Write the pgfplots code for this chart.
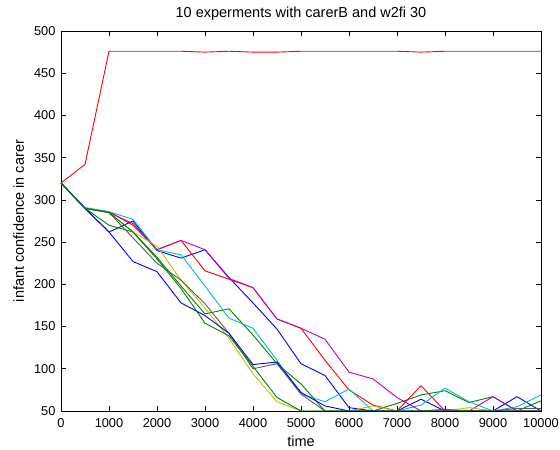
\documentclass[border=0pt]{standalone}
\usepackage{fontspec}
\setmainfont{Liberation Sans}
\usepackage{pgfplots}
\pgfplotsset{compat=1.18}
\definecolor{mb}{rgb}{0,0,1}
\definecolor{mg}{rgb}{0,0.5,0}
\definecolor{mr}{rgb}{1,0,0}
\definecolor{mc}{rgb}{0,0.75,0.75}
\definecolor{mm}{rgb}{0.75,0,0.75}
\definecolor{my}{rgb}{0.75,0.75,0}
\definecolor{mk}{rgb}{0.35,0.35,0.35}
\pgfplotstableread{
x L1 L2 L3 L4 L5 L6 L7 L8 L9 L10
0     320 320 320 320 320 320 320 320 320 320
500   342 290 290 290 291 290 290 290 290 290
1000  476 262 270 286 286 285 285 285 262 285
1500  476 275 262 270 277 272 262 255 227 262
2000  476 240 232 241 241 241 245 225 215 230
2500  476 231 198 252 235 252 205 205 178 195
3000  475 241 165 216 198 241 172 177 163 154
3500  476 208 171 206 160 207 136 142 142 139
4000  475 178 140 196 148 196 94  100 105 103
4500  475 147 106 159 110 159 61  106 108 66
5000  476 106 82  148 70  148 50  70  72  50
5500  476 92  50  110 61  135 50  50  56  50
6000  476 54  50  75  76  96  50  50  50  50
6500  476 50  50  57  50  88  56  50  50  50
7000  476 50  59  50  50  66  50  50  50  50
7500  475 64  69  80  57  50  50  50  50  50
8000  476 50  74  50  77  50  50  50  50  52
8500  476 50  60  50  61  50  54  50  50  50
9000  476 50  67  50  50  67  50  50  50  50
9500  476 67  50  50  55  50  50  53  50  50
10000 476 50  62  50  69  50  50  53  50  50
}\data
\begin{document}
\begin{tikzpicture}
\begin{axis}[
  at={(0,0)}, anchor=south west,
  scale only axis, width=480bp, height=380bp,
  xmin=0, xmax=10000, ymin=50, ymax=500,
  xtick={0,1000,...,10000}, ytick={50,100,...,500},
  tick align=inside, tick pos=both,
  major tick length=5bp,
  /pgf/number format/assume math mode=true,
  /pgf/number format/set thousands separator={},
  scaled x ticks=false,
  tick label style={font=\fontsize{12.8bp}{15bp}\selectfont},
  xticklabel style={yshift=-4bp},
  yticklabel style={xshift=-2bp},
  title={10 experments with carerB and w2fi 30},
  title style={font=\fontsize{14.5bp}{17bp}\selectfont, at={(axis description cs:0.5,1)}, anchor=base, yshift=8bp},
  xlabel={time},
  xlabel style={font=\fontsize{14.5bp}{17bp}\selectfont, inner sep=0.5bp, at={(axis description cs:0.5,0)}, anchor=base, yshift=-35.5bp},
  ylabel={infant confidence in carer},
  ylabel style={font=\fontsize{14.5bp}{17bp}\selectfont, at={(axis description cs:0,0.5)}, anchor=base, yshift=37bp},
  axis line style={line width=0.6bp},
  every tick/.style={line width=0.6bp, black},
  every axis plot/.append style={line width=0.9bp, line join=round},
]
\addplot[mb] table[x=x,y=L2]{\data};
\addplot[mg] table[x=x,y=L3]{\data};
\addplot[mr] table[x=x,y=L4]{\data};
\addplot[mc] table[x=x,y=L5]{\data};
\addplot[mm] table[x=x,y=L6]{\data};
\addplot[my] table[x=x,y=L7]{\data};
\addplot[mk] table[x=x,y=L8]{\data};
\addplot[mb] table[x=x,y=L9]{\data};
\addplot[mg] table[x=x,y=L10]{\data};
\addplot[mr] table[x=x,y=L1]{\data};
\end{axis}
\pgfresetboundingbox
\path[use as bounding box] (-61bp,-38.3bp) rectangle (499bp,411bp);
\end{tikzpicture}
\end{document}
